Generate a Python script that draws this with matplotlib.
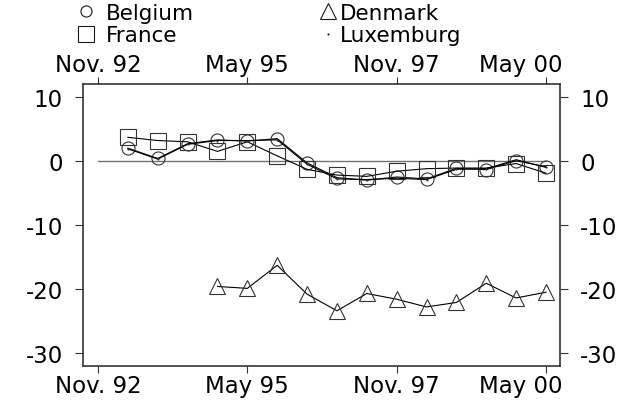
import matplotlib
matplotlib.use('Agg')
import matplotlib.pyplot as plt
from matplotlib.lines import Line2D
from matplotlib.transforms import ScaledTranslation

plt.rcParams['font.family'] = ['DejaVu Sans']
plt.rcParams['axes.unicode_minus'] = False

# semiannual observations
dates = ['1993-05', '1993-11', '1994-05', '1994-11', '1995-05', '1995-11',
         '1996-05', '1996-11', '1997-05', '1997-11', '1998-05', '1998-11',
         '1999-05', '1999-11', '2000-05']
dates_dk = ['1994-11', '1995-05', '1995-11', '1996-05', '1996-11', '1997-05',
            '1997-11', '1998-05', '1998-11', '1999-05', '1999-11', '2000-05']

belgium = [2.0, 0.4, 2.7, 3.3, 3.1, 3.5, -0.3, -2.6, -3.0, -2.5, -2.8, -1.15, -1.35, 0.05, -0.9]
france = [3.7, 3.2, 3.0, 1.5, 3.0, 0.8, -1.3, -2.2, -2.4, -1.6, -1.2, -1.1, -1.1, -0.4, -1.9]
luxemburg = [1.9, 0.3, 2.6, 3.2, 3.2, 3.3, -0.5, -2.8, -2.9, -2.7, -2.9, -1.3, -1.2, 0.2, -1.0]
denmark = [-19.6, -19.9, -16.3, -20.8, -23.4, -20.7, -21.6, -22.8, -22.1, -19.1, -21.4, -20.5]

tick_dates = ['1992-11', '1995-05', '1997-11', '2000-05']
tick_labels = ['Nov. 92', 'May 95', 'Nov. 97', 'May 00']
yticks = [10, 0, -10, -20, -30]


def dec(ym):
    y, m = ym.split('-')
    return int(y) + (int(m) - 1) / 12


x = [dec(d) for d in dates]
x_dk = [dec(d) for d in dates_dk]

fig = plt.figure(figsize=(6.34, 4.02), dpi=100)
ax = fig.add_axes([83 / 634, 1 - 366.5 / 402, 477 / 634, 281.5 / 402])

# reference line at zero
ax.plot([dec(tick_dates[0]), dec(tick_dates[-1])], [0, 0], color='0.45', lw=1.0)

mk = dict(color='black', lw=0.8, mfc='none', mec='0.2', mew=0.8)
ax.plot(x, belgium, marker='o', ms=9.4, **mk)
ax.plot(x_dk, denmark, marker='^', ms=11.5, **mk)
ax.plot(x, france, marker='s', ms=11.5, **mk)
ax.plot(x, luxemburg, marker='.', ms=1.5, **mk)

ax.set_xlim(1992.582, 2000.568)
ax.set_ylim(-31.95, 12.03)
ax.set_xticks([dec(d) for d in tick_dates])
ax.set_xticklabels(tick_labels)
ax.set_yticks(yticks)

ax.tick_params(axis='x', top=True, labeltop=True, length=5, width=0.8,
               pad=1, labelsize=16.5, color='0.2')
ax.tick_params(axis='y', right=True, labelright=True, length=5.5, width=0.8,
               pad=9, labelsize=16.5, color='0.2')
for s in ax.spines.values():
    s.set_linewidth(1.2)
    s.set_color('0.2')

# last x label is pushed inside the frame
off = ScaledTranslation(17 / 100, 0, fig.dpi_scale_trans)
last = ax.xaxis.get_major_ticks()[-1]
for lab in (last.label1, last.label2):
    lab.set_horizontalalignment('right')
    lab.set_transform(lab.get_transform() + off)

# legend, two columns
h = lambda m, s: Line2D([], [], ls='none', marker=m, ms=s, mfc='none', mec='0.1', mew=0.8)
fig.legend([h('o', 8), h('s', 11)], ['Belgium', 'France'], loc='upper left',
           bbox_to_anchor=(77.7 / 634, 1 - 4 / 402), frameon=False, borderpad=0,
           borderaxespad=0, handlelength=0.8, handletextpad=0.5, labelspacing=0.1,
           fontsize=15.5)
fig.legend([h('^', 11), h('.', 1.5)], ['Denmark', 'Luxemburg'], loc='upper left',
           bbox_to_anchor=(319.7 / 634, 1 - 4 / 402), frameon=False, borderpad=0,
           borderaxespad=0, handlelength=0.8, handletextpad=0.15, labelspacing=0.1,
           fontsize=15.5)

fig.savefig('out.png', dpi=100)
